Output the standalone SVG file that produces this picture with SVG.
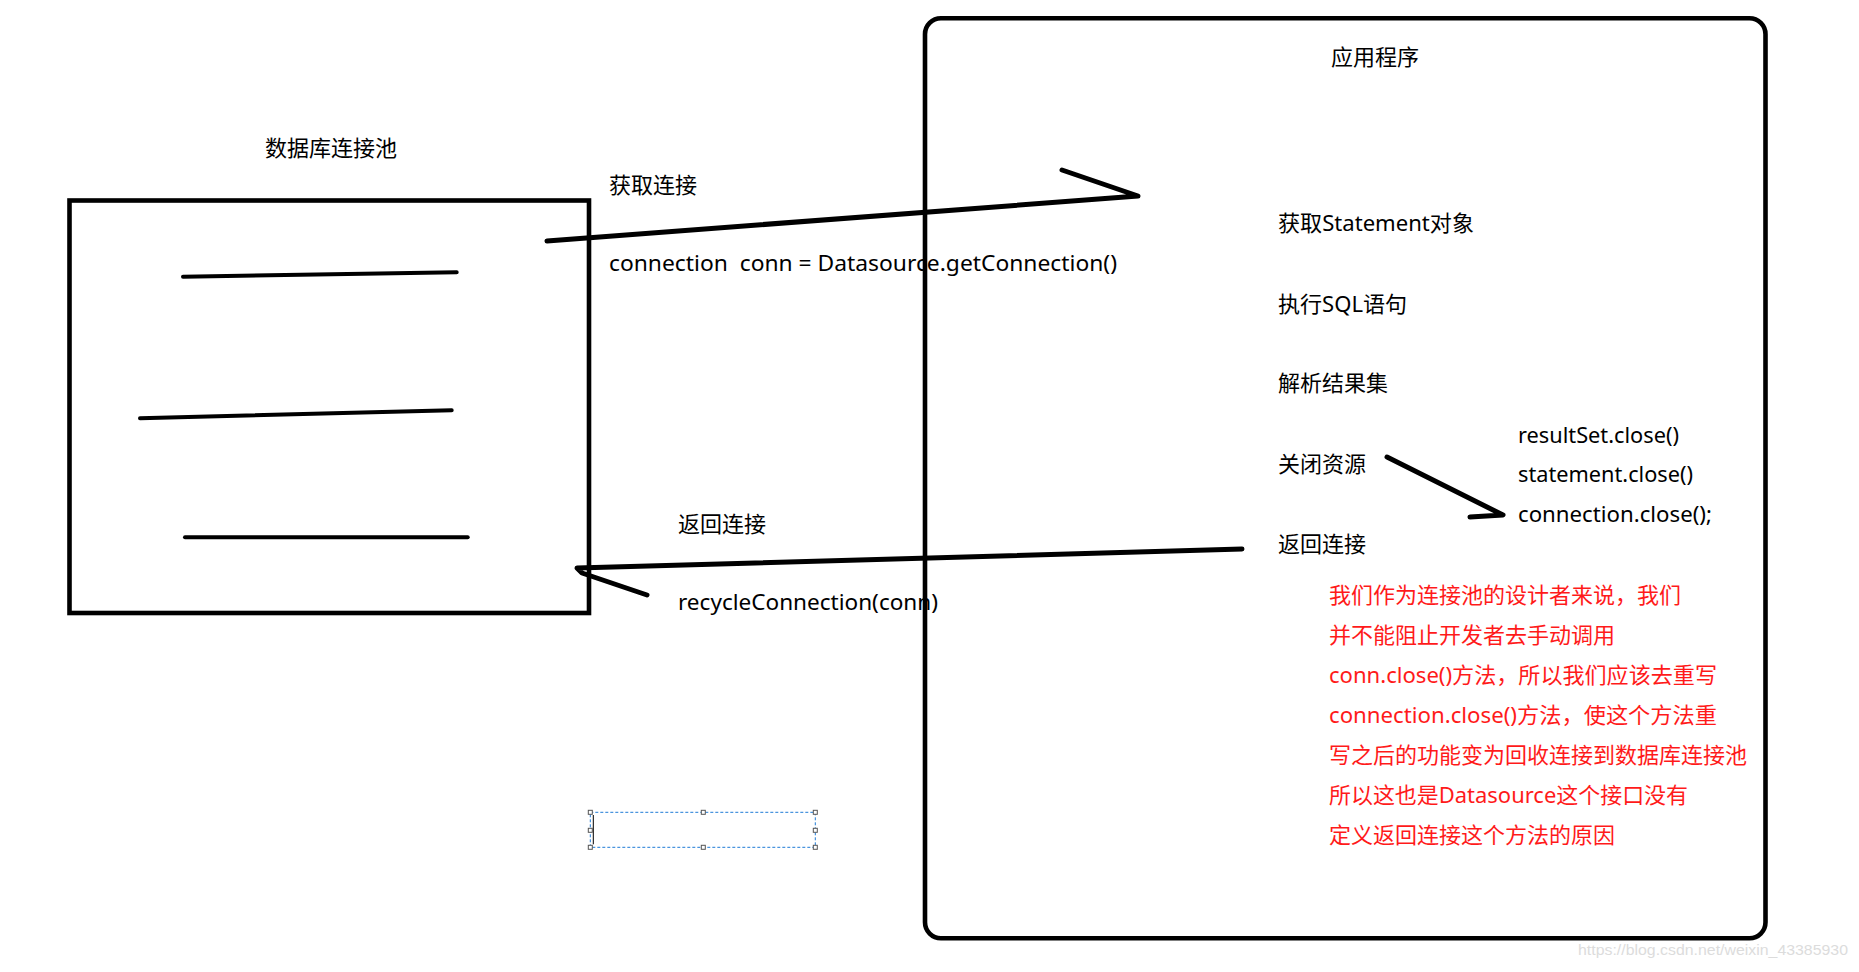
<svg xmlns="http://www.w3.org/2000/svg" width="1859" height="972" viewBox="0 0 1859 972">
<defs>
<style>
.t{font-family:"Noto Sans","Noto Sans CJK SC",sans-serif;font-size:22px;fill:#000}
.r{font-family:"Noto Sans","Noto Sans CJK SC",sans-serif;font-size:22px;fill:#ff1a1a}
.box{fill:none;stroke:#000;stroke-width:4.6}
.ln{fill:none;stroke:#000;stroke-width:4;stroke-linecap:round;stroke-linejoin:round}
.ar{fill:none;stroke:#000;stroke-width:5;stroke-linecap:round;stroke-linejoin:round}
.h{fill:#fff;stroke:#555;stroke-width:1}
</style>
</defs>
<rect width="1859" height="972" fill="#fff"/>
<g id="pool">
<rect class="box" x="69.5" y="200.5" width="519.5" height="412.5"/>
<line class="ln" x1="183" y1="276.7" x2="456.7" y2="272.3"/>
<line class="ln" x1="140" y1="418.3" x2="451.7" y2="410.3"/>
<line class="ln" x1="185" y1="537.3" x2="467.7" y2="537.3"/>
<text class="t" x="265" y="155.5">数据库连接池</text>
</g>
<g id="app">
<rect class="box" x="925" y="18.3" width="840.5" height="920" rx="16"/>
<text class="t" x="1331" y="64.5">应用程序</text>
<text class="t" x="1278" y="231.3" textLength="196" lengthAdjust="spacingAndGlyphs">获取Statement对象</text>
<text class="t" x="1278" y="312" textLength="129" lengthAdjust="spacingAndGlyphs">执行SQL语句</text>
<text class="t" x="1278" y="391.4">解析结果集</text>
<text class="t" x="1278" y="472.4">关闭资源</text>
<text class="t" x="1278" y="552.4">返回连接</text>
<text class="t" x="1518" y="442.7" textLength="161" lengthAdjust="spacingAndGlyphs">resultSet.close()</text>
<text class="t" x="1518" y="481.7" textLength="175" lengthAdjust="spacingAndGlyphs">statement.close()</text>
<text class="t" x="1518" y="521.5" textLength="194" lengthAdjust="spacingAndGlyphs">connection.close();</text>
<text class="r" x="1329" y="603.4">我们作为连接池的设计者来说，我们</text>
<text class="r" x="1329" y="643.4">并不能阻止开发者去手动调用</text>
<text class="r" x="1329" y="683.4" textLength="388" lengthAdjust="spacingAndGlyphs">conn.close()方法，所以我们应该去重写</text>
<text class="r" x="1329" y="723.4" textLength="388" lengthAdjust="spacingAndGlyphs">connection.close()方法，使这个方法重</text>
<text class="r" x="1329" y="763.4">写之后的功能变为回收连接到数据库连接池</text>
<text class="r" x="1329" y="803.4" textLength="359" lengthAdjust="spacingAndGlyphs">所以这也是Datasource这个接口没有</text>
<text class="r" x="1329" y="843.4">定义返回连接这个方法的原因</text>
</g>
<g id="connectors">
<polyline class="ar" points="547,241 1138,196 1062,170"/>
<polyline class="ar" points="1242,549 577,568 582,573 647,595"/>
<polyline class="ar" points="1387,457 1503,515 1470,517"/>
</g>
<g id="connector-labels">
<text class="t" x="609" y="193.4">获取连接</text>
<text class="t" x="609" y="271" textLength="508" lengthAdjust="spacingAndGlyphs" xml:space="preserve">connection  conn = Datasource.getConnection()</text>
<text class="t" x="678" y="532.4">返回连接</text>
<text class="t" x="678" y="610" textLength="260" lengthAdjust="spacingAndGlyphs">recycleConnection(conn)</text>
</g>
<g id="selection">
<rect x="590.3" y="812.3" width="225" height="35" fill="none" stroke="#1e7bd6" stroke-width="1" stroke-dasharray="3,2"/>
<line x1="593.3" y1="815" x2="593.3" y2="844.3" stroke="#000" stroke-width="1"/>
<rect class="h" x="588.3" y="810.3" width="4" height="4"/>
<rect class="h" x="701.3" y="810.3" width="4" height="4"/>
<rect class="h" x="813.3" y="810.3" width="4" height="4"/>
<rect class="h" x="588.3" y="828.3" width="4" height="4"/>
<rect class="h" x="813.3" y="828.3" width="4" height="4"/>
<rect class="h" x="588.3" y="845.3" width="4" height="4"/>
<rect class="h" x="701.3" y="845.3" width="4" height="4"/>
<rect class="h" x="813.3" y="845.3" width="4" height="4"/>
</g>
<text x="1578" y="955" font-family="Liberation Sans, sans-serif" font-size="15" fill="#dcdcdc" textLength="270" lengthAdjust="spacingAndGlyphs">https://blog.csdn.net/weixin_43385930</text>
</svg>
